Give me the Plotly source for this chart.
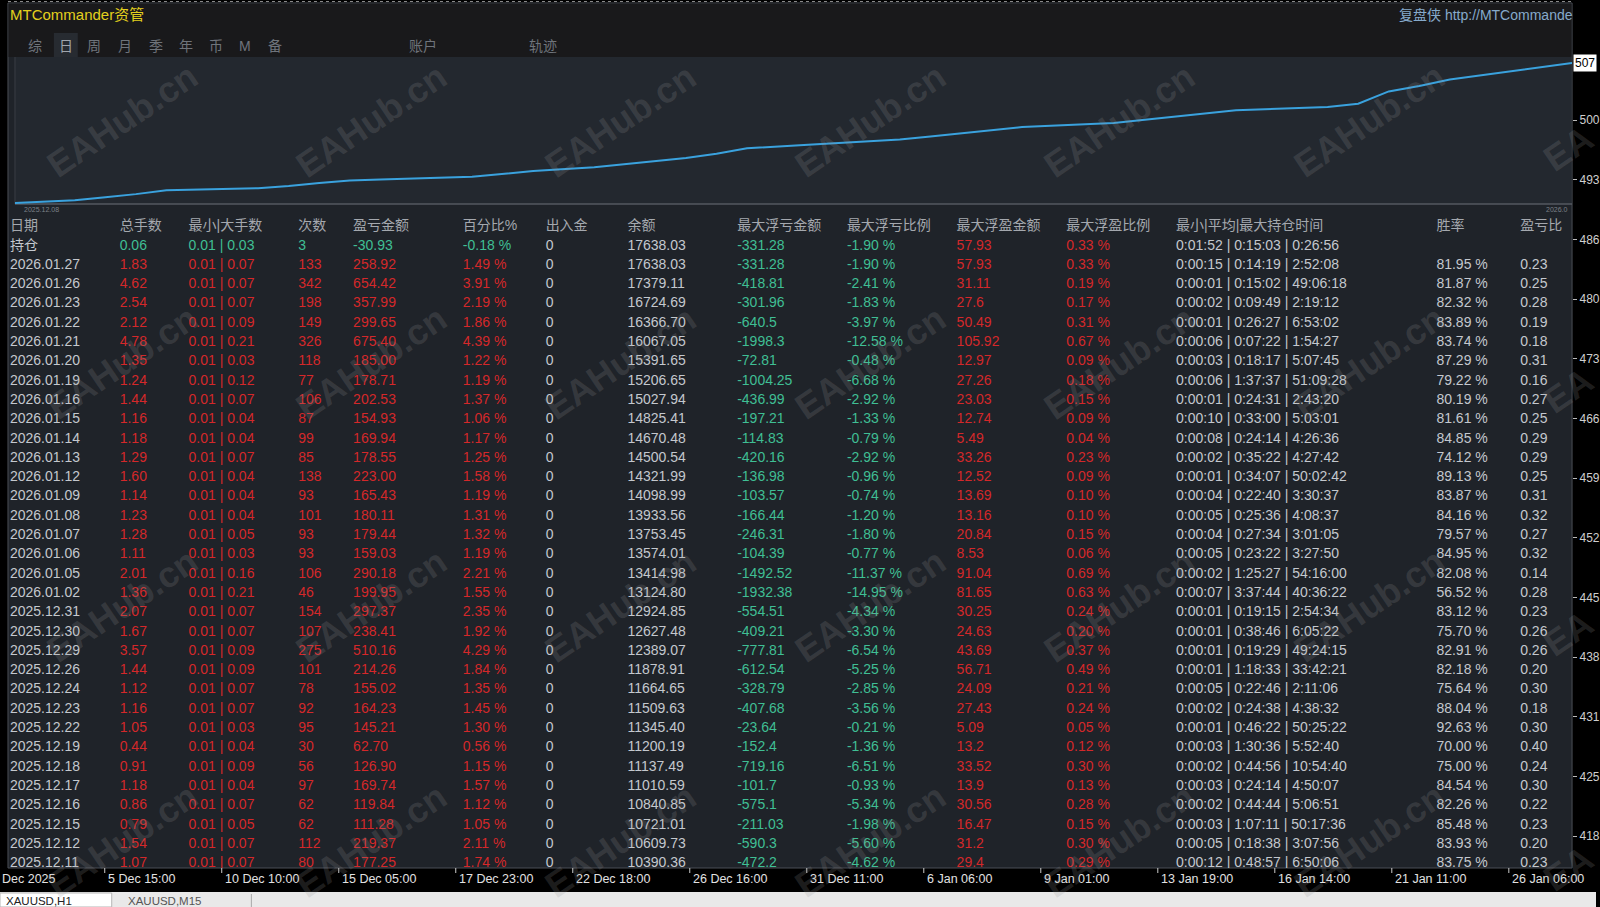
import plotly.graph_objects as go

W, H = 1600, 907

# ---- daily report rows (newest first) ----
dates = ["2026.01.27", "2026.01.26", "2026.01.23", "2026.01.22", "2026.01.21", "2026.01.20",
         "2026.01.19", "2026.01.16", "2026.01.15", "2026.01.14", "2026.01.13", "2026.01.12",
         "2026.01.09", "2026.01.08", "2026.01.07", "2026.01.06", "2026.01.05", "2026.01.02",
         "2025.12.31", "2025.12.30", "2025.12.29", "2025.12.26", "2025.12.24", "2025.12.23",
         "2025.12.22", "2025.12.19", "2025.12.18", "2025.12.17", "2025.12.16", "2025.12.15",
         "2025.12.12", "2025.12.11"]
lots = [1.83, 4.62, 2.54, 2.12, 4.78, 1.35, 1.24, 1.44, 1.16, 1.18, 1.29, 1.60, 1.14, 1.23,
        1.28, 1.11, 2.01, 1.36, 2.07, 1.67, 3.57, 1.44, 1.12, 1.16, 1.05, 0.44, 0.91, 1.18,
        0.86, 0.79, 1.54, 1.07]
lot_min = [0.01, 0.01, 0.01, 0.01, 0.01, 0.01, 0.01, 0.01, 0.01, 0.01, 0.01, 0.01, 0.01, 0.01,
           0.01, 0.01, 0.01, 0.01, 0.01, 0.01, 0.01, 0.01, 0.01, 0.01, 0.01, 0.01, 0.01, 0.01,
           0.01, 0.01, 0.01, 0.01]
lot_max = [0.07, 0.07, 0.07, 0.09, 0.21, 0.03, 0.12, 0.07, 0.04, 0.04, 0.07, 0.04, 0.04, 0.04,
           0.05, 0.03, 0.16, 0.21, 0.07, 0.07, 0.09, 0.09, 0.07, 0.07, 0.03, 0.04, 0.09, 0.04,
           0.07, 0.05, 0.07, 0.07]
trades = [133, 342, 198, 149, 326, 118, 77, 106, 87, 99, 85, 138, 93, 101, 93, 93, 106, 46,
          154, 107, 275, 101, 78, 92, 95, 30, 56, 97, 62, 62, 112, 80]
pnl = [258.92, 654.42, 357.99, 299.65, 675.40, 185.00, 178.71, 202.53, 154.93, 169.94, 178.55,
       223.00, 165.43, 180.11, 179.44, 159.03, 290.18, 199.95, 297.37, 238.41, 510.16, 214.26,
       155.02, 164.23, 145.21, 62.70, 126.90, 169.74, 119.84, 111.28, 219.37, 177.25]
pnl_pct = [1.49, 3.91, 2.19, 1.86, 4.39, 1.22, 1.19, 1.37, 1.06, 1.17, 1.25, 1.58, 1.19, 1.31,
           1.32, 1.19, 2.21, 1.55, 2.35, 1.92, 4.29, 1.84, 1.35, 1.45, 1.30, 0.56, 1.15, 1.57,
           1.12, 1.05, 2.11, 1.74]
cash_flow = [0, 0, 0, 0, 0, 0, 0, 0, 0, 0, 0, 0, 0, 0, 0, 0, 0, 0, 0, 0, 0, 0, 0, 0, 0, 0, 0,
             0, 0, 0, 0, 0]
balance = [17638.03, 17379.11, 16724.69, 16366.70, 16067.05, 15391.65, 15206.65, 15027.94,
           14825.41, 14670.48, 14500.54, 14321.99, 14098.99, 13933.56, 13753.45, 13574.01,
           13414.98, 13124.80, 12924.85, 12627.48, 12389.07, 11878.91, 11664.65, 11509.63,
           11345.40, 11200.19, 11137.49, 11010.59, 10840.85, 10721.01, 10609.73, 10390.36]
max_float_loss = [-331.28, -418.81, -301.96, -640.5, -1998.3, -72.81, -1004.25, -436.99, -197.21,
                  -114.83, -420.16, -136.98, -103.57, -166.44, -246.31, -104.39, -1492.52,
                  -1932.38, -554.51, -409.21, -777.81, -612.54, -328.79, -407.68, -23.64, -152.4,
                  -719.16, -101.7, -575.1, -211.03, -590.3, -472.2]
max_float_loss_pct = [-1.90, -2.41, -1.83, -3.97, -12.58, -0.48, -6.68, -2.92, -1.33, -0.79,
                      -2.92, -0.96, -0.74, -1.20, -1.80, -0.77, -11.37, -14.95, -4.34, -3.30,
                      -6.54, -5.25, -2.85, -3.56, -0.21, -1.36, -6.51, -0.93, -5.34, -1.98,
                      -5.60, -4.62]
max_float_profit = [57.93, 31.11, 27.6, 50.49, 105.92, 12.97, 27.26, 23.03, 12.74, 5.49, 33.26,
                    12.52, 13.69, 13.16, 20.84, 8.53, 91.04, 81.65, 30.25, 24.63, 43.69, 56.71,
                    24.09, 27.43, 5.09, 13.2, 33.52, 13.9, 30.56, 16.47, 31.2, 29.4]
max_float_profit_pct = [0.33, 0.19, 0.17, 0.31, 0.67, 0.09, 0.18, 0.15, 0.09, 0.04, 0.23, 0.09,
                        0.10, 0.10, 0.15, 0.06, 0.69, 0.63, 0.24, 0.20, 0.37, 0.49, 0.21, 0.24,
                        0.05, 0.12, 0.30, 0.13, 0.28, 0.15, 0.30, 0.29]
hold_times = ["0:00:15 | 0:14:19 | 2:52:08", "0:00:01 | 0:15:02 | 49:06:18",
              "0:00:02 | 0:09:49 | 2:19:12", "0:00:01 | 0:26:27 | 6:53:02",
              "0:00:06 | 0:07:22 | 1:54:27", "0:00:03 | 0:18:17 | 5:07:45",
              "0:00:06 | 1:37:37 | 51:09:28", "0:00:01 | 0:24:31 | 2:43:20",
              "0:00:10 | 0:33:00 | 5:03:01", "0:00:08 | 0:24:14 | 4:26:36",
              "0:00:02 | 0:35:22 | 4:27:42", "0:00:01 | 0:34:07 | 50:02:42",
              "0:00:04 | 0:22:40 | 3:30:37", "0:00:05 | 0:25:36 | 4:08:37",
              "0:00:04 | 0:27:34 | 3:01:05", "0:00:05 | 0:23:22 | 3:27:50",
              "0:00:02 | 1:25:27 | 54:16:00", "0:00:07 | 3:37:44 | 40:36:22",
              "0:00:01 | 0:19:15 | 2:54:34", "0:00:01 | 0:38:46 | 6:05:22",
              "0:00:01 | 0:19:29 | 49:24:15", "0:00:01 | 1:18:33 | 33:42:21",
              "0:00:05 | 0:22:46 | 2:11:06", "0:00:02 | 0:24:38 | 4:38:32",
              "0:00:01 | 0:46:22 | 50:25:22", "0:00:03 | 1:30:36 | 5:52:40",
              "0:00:02 | 0:44:56 | 10:54:40", "0:00:03 | 0:24:14 | 4:50:07",
              "0:00:02 | 0:44:44 | 5:06:51", "0:00:03 | 1:07:11 | 50:17:36",
              "0:00:05 | 0:18:38 | 3:07:56", "0:00:12 | 0:48:57 | 6:50:06"]
win_rate = [81.95, 81.87, 82.32, 83.89, 83.74, 87.29, 79.22, 80.19, 81.61, 84.85, 74.12, 89.13,
            83.87, 84.16, 79.57, 84.95, 82.08, 56.52, 83.12, 75.70, 82.91, 82.18, 75.64, 88.04,
            92.63, 70.00, 75.00, 84.54, 82.26, 85.48, 83.93, 83.75]
pl_ratio = [0.23, 0.25, 0.28, 0.19, 0.18, 0.31, 0.16, 0.27, 0.25, 0.29, 0.29, 0.25, 0.31, 0.32,
            0.27, 0.32, 0.14, 0.28, 0.23, 0.26, 0.26, 0.20, 0.30, 0.18, 0.30, 0.40, 0.24, 0.30,
            0.22, 0.23, 0.20, 0.23]

# open positions row (持仓)
open_lots, open_lot_min, open_lot_max, open_trades = 0.06, 0.01, 0.03, 3
open_pnl, open_pct, open_flow, open_balance = -30.93, -0.18, 0, 17638.03
open_mfl, open_mfl_pct, open_mfp, open_mfp_pct = -331.28, -1.90, 57.93, 0.33
open_hold = "0:01:52 | 0:15:03 | 0:26:56"

headers = ["日期", "总手数", "最小|大手数", "次数", "盈亏金额", "百分比%", "出入金", "余额",
           "最大浮亏金额", "最大浮亏比例", "最大浮盈金额", "最大浮盈比例", "最小|平均|最大持仓时间",
           "胜率", "盈亏比"]

# balance before the visible rows
curve_start_dates = ["2025-12-08 00:00", "2025-12-09 23:00", "2025-12-10 23:00"]
curve_start_balance = [9900, 10050, 10213.11]

# background MT4 chart axes (visible text only)
time_labels = ["5 Dec 15:00", "10 Dec 10:00", "15 Dec 05:00", "17 Dec 23:00", "22 Dec 18:00",
               "26 Dec 16:00", "31 Dec 11:00", "6 Jan 06:00", "9 Jan 01:00", "13 Jan 19:00",
               "16 Jan 14:00", "21 Jan 11:00", "26 Jan 06:00"]
price_ticks = [5006.3, 4937.6, 4868.9, 4800.2, 4731.5, 4662.8, 4594.1, 4525.4, 4456.7, 4388.0,
               4319.3, 4250.6, 4181.9]
price_labels = ["500", "493", "486", "480", "473", "466", "459", "452", "445", "438", "431",
                "425", "418"]
last_price = 5071.9
tabs = ["综", "日", "周", "月", "季", "年", "币", "M", "备"]

# ---- styling ----
FONT = "Arial, 'Noto Sans CJK SC', sans-serif"
RED = "#d4282a"
GREEN = "#3fbf94"
TXT = "#c4c8ce"
HEAD = "#a4a8ae"
ROW0, ROW_H = 246, 19.3
TABLE_TOP, TABLE_BOTTOM = 212, 868
col_x = [10, 120, 189, 299, 354, 464, 547, 629, 739, 849, 959, 1069, 1179, 1440, 1524]


def px(x):
    return x / W


def py(y):
    return 1 - y / H


fig = go.Figure()

# equity curve
curve_x = curve_start_dates + [d.replace(".", "-") + " 23:00" for d in reversed(dates)]
curve_y = curve_start_balance + list(reversed(balance))
fig.add_trace(go.Scatter(x=curve_x, y=curve_y, mode="lines", xaxis="x", yaxis="y",
                         line=dict(color="#3aa2de", width=2), hoverinfo="skip"))

# table
row_names = ["持仓"] + dates
all_pnl = [open_pnl] + pnl
sign_col = [RED if p > 0 else GREEN for p in all_pnl]
n = len(row_names)
columns = [
    (row_names, [TXT] * n),
    ([f"{v:.2f}" for v in [open_lots] + lots], sign_col),
    ([f"{a:.2f} | {b:.2f}" for a, b in zip([open_lot_min] + lot_min, [open_lot_max] + lot_max)], sign_col),
    ([str(v) for v in [open_trades] + trades], sign_col),
    ([f"{v:.2f}" for v in all_pnl], sign_col),
    ([f"{v:.2f} %" for v in [open_pct] + pnl_pct], sign_col),
    ([str(v) for v in [open_flow] + cash_flow], [TXT] * n),
    ([f"{v:.2f}" for v in [open_balance] + balance], [TXT] * n),
    ([str(v) for v in [open_mfl] + max_float_loss], [GREEN] * n),
    ([f"{v:.2f} %" for v in [open_mfl_pct] + max_float_loss_pct], [GREEN] * n),
    ([str(v) for v in [open_mfp] + max_float_profit], [RED] * n),
    ([f"{v:.2f} %" for v in [open_mfp_pct] + max_float_profit_pct], [RED] * n),
    ([open_hold] + hold_times, [TXT] * n),
    ([""] + [f"{v:.2f} %" for v in win_rate], [TXT] * n),
    ([""] + [f"{v:.2f}" for v in pl_ratio], [TXT] * n),
]
for cx, (texts, colors) in zip(col_x, columns):
    fig.add_trace(go.Scatter(
        x=[cx] * n, y=list(range(n)), mode="text", text=texts, textposition="middle right",
        textfont=dict(family=FONT, size=14, color=colors), cliponaxis=True,
        xaxis="x2", yaxis="y2", hoverinfo="skip"))
fig.add_trace(go.Scatter(
    x=col_x, y=[-1] * len(headers), mode="text", text=headers, textposition="middle right",
    textfont=dict(family=FONT, size=14, color=HEAD), cliponaxis=True,
    xaxis="x2", yaxis="y2", hoverinfo="skip"))

# empty trace so the price axis is drawn
fig.add_trace(go.Scatter(x=[], y=[], xaxis="x", yaxis="y3", hoverinfo="skip"))

shapes = [
    dict(type="rect", x0=px(8), x1=px(1576), y0=py(868), y1=py(3), fillcolor="#1f2329",
         line=dict(color="#4b4f56", width=1)),
    dict(type="rect", x0=px(8.5), x1=px(1575.5), y0=py(57), y1=py(3.5), fillcolor="#19191b",
         line=dict(width=0)),
    dict(type="rect", x0=px(54), x1=px(78), y0=py(57), y1=py(33), fillcolor="#272b31",
         line=dict(width=0)),
    dict(type="rect", x0=px(15), x1=px(1575.5), y0=py(204), y1=py(57), fillcolor="#23282f",
         line=dict(width=0)),
    dict(type="line", x0=px(15), x1=px(1576), y0=py(204), y1=py(204),
         line=dict(color="#555960", width=1.5)),
    dict(type="line", x0=px(15), x1=px(15), y0=py(204), y1=py(57),
         line=dict(color="#3a3e45", width=1)),
    dict(type="line", x0=px(8), x1=px(1576), y0=py(1.5), y1=py(1.5),
         line=dict(color="#8a8a8a", width=1, dash="dot")),
    dict(type="rect", x0=0, x1=1, y0=0, y1=py(892), fillcolor="#e9e9e9", line=dict(width=0)),
    dict(type="rect", x0=px(0), x1=px(112), y0=0, y1=py(893), fillcolor="#ffffff",
         line=dict(color="#b5b5b5", width=1)),
    dict(type="line", x0=px(252), x1=px(252), y0=0, y1=py(894),
         line=dict(color="#a8a8a8", width=1)),
]
for s in shapes:
    s.update(xref="paper", yref="paper", layer="below")

annotations = [
    dict(x=px(8), y=py(15), text="MTCommander资管", xanchor="left",
         font=dict(family=FONT, size=15, color="#e3d01e")),
    dict(x=px(1400), y=py(15), text="复盘侠 http://MTCommande", xanchor="left",
         font=dict(family=FONT, size=14, color="#86aacb")),
    dict(x=px(408), y=py(46), text="账户", xanchor="left",
         font=dict(family=FONT, size=14, color="#6f747b")),
    dict(x=px(528), y=py(46), text="轨迹", xanchor="left",
         font=dict(family=FONT, size=14, color="#6f747b")),
    dict(x=px(22), y=py(209), text="2025.12.08", xanchor="left",
         font=dict(family=FONT, size=7, color="#7b8087")),
    dict(x=px(1574), y=py(209), text="2026.0", xanchor="right",
         font=dict(family=FONT, size=7, color="#7b8087")),
    dict(x=px(0), y=py(879), text="Dec 2025", xanchor="left",
         font=dict(family=FONT, size=12.5, color="#e2e2e2")),
    dict(x=px(4), y=py(900.5), text="XAUUSD,H1", xanchor="left",
         font=dict(family=FONT, size=11.5, color="#222222")),
    dict(x=px(126), y=py(900.5), text="XAUUSD,M15", xanchor="left",
         font=dict(family=FONT, size=11.5, color="#555555")),
    dict(x=px(1577), y=last_price, yref="y3", text="507", xanchor="left", showarrow=False,
         bgcolor="#ffffff", borderpad=1, font=dict(family=FONT, size=12, color="#000000")),
]
tab_x = [35, 66, 94, 125, 156, 186, 217, 246, 276]
for tx, t in zip(tab_x, tabs):
    annotations.append(dict(x=px(tx), y=py(46), text=t, xanchor="center",
                            font=dict(family=FONT, size=14,
                                      color="#a0a6ad" if t == "日" else "#6f747b")))
for i, t in enumerate(time_labels):
    x0 = 105 + i * 117.3
    annotations.append(dict(x=px(x0 + 1), y=py(879), text=t, xanchor="left",
                            font=dict(family=FONT, size=12.5, color="#e2e2e2")))
    shapes.append(dict(type="line", xref="paper", yref="paper", x0=px(x0), x1=px(x0),
                       y0=py(868), y1=py(873), line=dict(color="#cccccc", width=1)))
# watermark
WM_FONT = dict(family="Arial", size=36, color="rgba(150,150,150,0.2)")
for wy in [120, 362, 605, 840]:
    for wx in [122, 372, 622, 872, 1122, 1372]:
        annotations.append(dict(x=px(wx), y=py(wy), text="<b>EAHub.cn</b>", textangle=-34,
                                xanchor="center", font=WM_FONT))
    annotations.append(dict(x=px(1572), y=py(wy + 28), text="<b>EA</b>", textangle=-34,
                            xanchor="center", font=WM_FONT))
for a in annotations:
    a.setdefault("xref", "paper")
    a.setdefault("yref", "paper")
    a.setdefault("showarrow", False)
    a.setdefault("yanchor", "middle")

fig.update_layout(
    width=W, height=H, margin=dict(l=0, r=0, t=0, b=0),
    paper_bgcolor="#000000", plot_bgcolor="rgba(0,0,0,0)", showlegend=False,
    xaxis=dict(domain=[px(15), px(1576)], type="date",
               range=["2025-12-08 00:00", "2026-01-27 23:00"], visible=False, fixedrange=True),
    yaxis=dict(domain=[py(204), py(57)], range=[9845, 17970], visible=False, fixedrange=True),
    xaxis2=dict(domain=[0, px(1576)], range=[0, 1576], visible=False, anchor="y2"),
    yaxis2=dict(domain=[py(TABLE_BOTTOM), py(TABLE_TOP)],
                range=[(TABLE_BOTTOM - ROW0) / ROW_H, (TABLE_TOP - ROW0) / ROW_H],
                visible=False, anchor="x2"),
    yaxis3=dict(domain=[0, 1], range=[5144.5 - H * 1.1513, 5144.5], anchor="free",
                position=px(1576), side="right", tickvals=price_ticks, ticktext=price_labels,
                ticks="outside", ticklen=4, tickcolor="#bbbbbb", showgrid=False,
                zeroline=False, showline=False,
                tickfont=dict(family=FONT, size=12, color="#cfcfcf")),
    shapes=shapes, annotations=annotations,
)

fig.write_html("out.html", config={"displayModeBar": False},
               post_script="document.body.style.margin='0';")
